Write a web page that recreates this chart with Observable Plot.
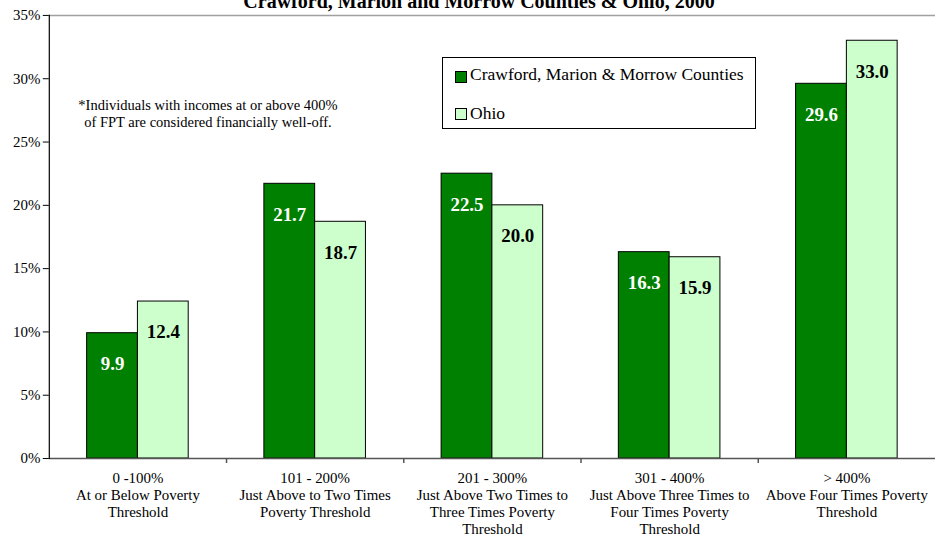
<!DOCTYPE html>
<html>
<head>
<meta charset="utf-8">
<script src="https://cdn.jsdelivr.net/npm/d3@7"></script>
<script src="https://cdn.jsdelivr.net/npm/@observablehq/plot@0.6"></script>
<style>
  html, body { margin: 0; padding: 0; background: #fff; overflow: hidden; }
  #wrap { position: relative; width: 935px; height: 547px; overflow: hidden; font-family: "Liberation Serif", "Times New Roman", serif; }
  #title { position: absolute; top: -9px; left: 479px; transform: translateX(-50%); white-space: nowrap; font-weight: bold; font-size: 20px; line-height: 20px; }
  #legend { position: absolute; left: 442px; top: 57px; width: 312px; height: 70px; border: 1px solid #000; background: #fff; }
  .sw { position: absolute; width: 10px; height: 10px; border: 1px solid #000; }
  .lt { position: absolute; font-size: 17.5px; line-height: 20px; white-space: nowrap; }
  #note { position: absolute; left: 208px; top: 97px; transform: translateX(-50%); text-align: center; white-space: nowrap; font-size: 14.5px; line-height: 17px; }
</style>
</head>
<body>
<div id="wrap">
  <div id="chart"></div>
  <div id="title"></div>
  <div id="legend"></div>
  <div id="note"></div>
</div>
<script>
const titleText = "Crawford, Marion and Morrow Counties & Ohio, 2000";
const noteLines = ["*Individuals with incomes at or above 400%", "of FPT are considered financially well-off."];
const seriesNames = ["Crawford, Marion & Morrow Counties", "Ohio"];
const seriesColors = ["#008000", "#CCFFCC"];
const categories = [
  "0 -100%\nAt or Below Poverty\nThreshold",
  "101 - 200%\nJust Above to Two Times\nPoverty Threshold",
  "201 - 300%\nJust Above Two Times to\nThree Times Poverty\nThreshold",
  "301 - 400%\nJust Above Three Times to\nFour Times Poverty\nThreshold",
  "> 400%\nAbove Four Times Poverty\nThreshold"
];
const crawford = [9.9, 21.7, 22.5, 16.3, 29.6];
const ohio = [12.4, 18.7, 20.0, 15.9, 33.0];
const yTicks = [0, 5, 10, 15, 20, 25, 30, 35];

const rows = [];
categories.forEach((c, i) => {
  rows.push({cat: c, series: seriesNames[0], value: crawford[i]});
  rows.push({cat: c, series: seriesNames[1], value: ohio[i]});
});
const dark = rows.filter(d => d.series === seriesNames[0]);
const light = rows.filter(d => d.series === seriesNames[1]);

const chart = Plot.plot({
  width: 939,
  height: 547,
  marginTop: 15,
  marginBottom: 87,
  marginLeft: 49,
  marginRight: 0,
  style: {fontFamily: "Liberation Serif, Times New Roman, serif", fontSize: "15px", color: "#000", background: "transparent"},
  x: {domain: categories, padding: 0, round: false, label: null},
  y: {domain: [0, 35], ticks: yTicks, label: null},
  marks: [
    Plot.barY(dark, {x: "cat", y: "value", fill: seriesColors[0], stroke: "#000", strokeWidth: 1, insetLeft: 38, insetRight: 89}),
    Plot.barY(light, {x: "cat", y: "value", fill: seriesColors[1], stroke: "#000", strokeWidth: 1, insetLeft: 89, insetRight: 38}),
    Plot.text(dark, {x: "cat", y: "value", text: d => d.value.toFixed(1), dx: -25.5, dy: 31, fill: "#fff", fontWeight: "bold", fontSize: 19}),
    Plot.text(light, {x: "cat", y: "value", text: d => d.value.toFixed(1), dx: 25.5, dy: 31, fill: "#000", fontWeight: "bold", fontSize: 19}),
    Plot.ruleY([35], {stroke: "#a0a0a0", strokeWidth: 1.5}),
    Plot.ruleY([0], {stroke: "#555", strokeWidth: 1.5}),
    Plot.ruleX(categories.slice(0, 4), {x: d => d, y1: 0, y2: 0, dx: 89, insetBottom: -5, stroke: "#555", strokeWidth: 1.5}),
    Plot.frame({anchor: "left", stroke: "#000", strokeWidth: 1.2}),
    Plot.axisY({ticks: yTicks, tickFormat: d => d + "%", tickSize: 6, tickPadding: 3, stroke: "#000", fill: "#000", fontSize: 15, label: null}),
    Plot.axisX({tickSize: 0, tickPadding: 13, lineHeight: 1.13, fontSize: 15, fill: "#000", label: null})
  ]
});
document.getElementById("chart").appendChild(chart);

document.getElementById("title").textContent = titleText;
document.getElementById("note").innerHTML = noteLines.join("<br>");

const legend = document.getElementById("legend");
const swTops = [13, 50];
const txTops = [6, 45];
seriesNames.forEach((name, i) => {
  const sw = document.createElement("div");
  sw.className = "sw";
  sw.style.left = "12px";
  sw.style.top = swTops[i] + "px";
  sw.style.background = seriesColors[i];
  legend.appendChild(sw);
  const t = document.createElement("div");
  t.className = "lt";
  t.style.left = "27px";
  t.style.top = txTops[i] + "px";
  t.textContent = name;
  legend.appendChild(t);
});
</script>
</body>
</html>
